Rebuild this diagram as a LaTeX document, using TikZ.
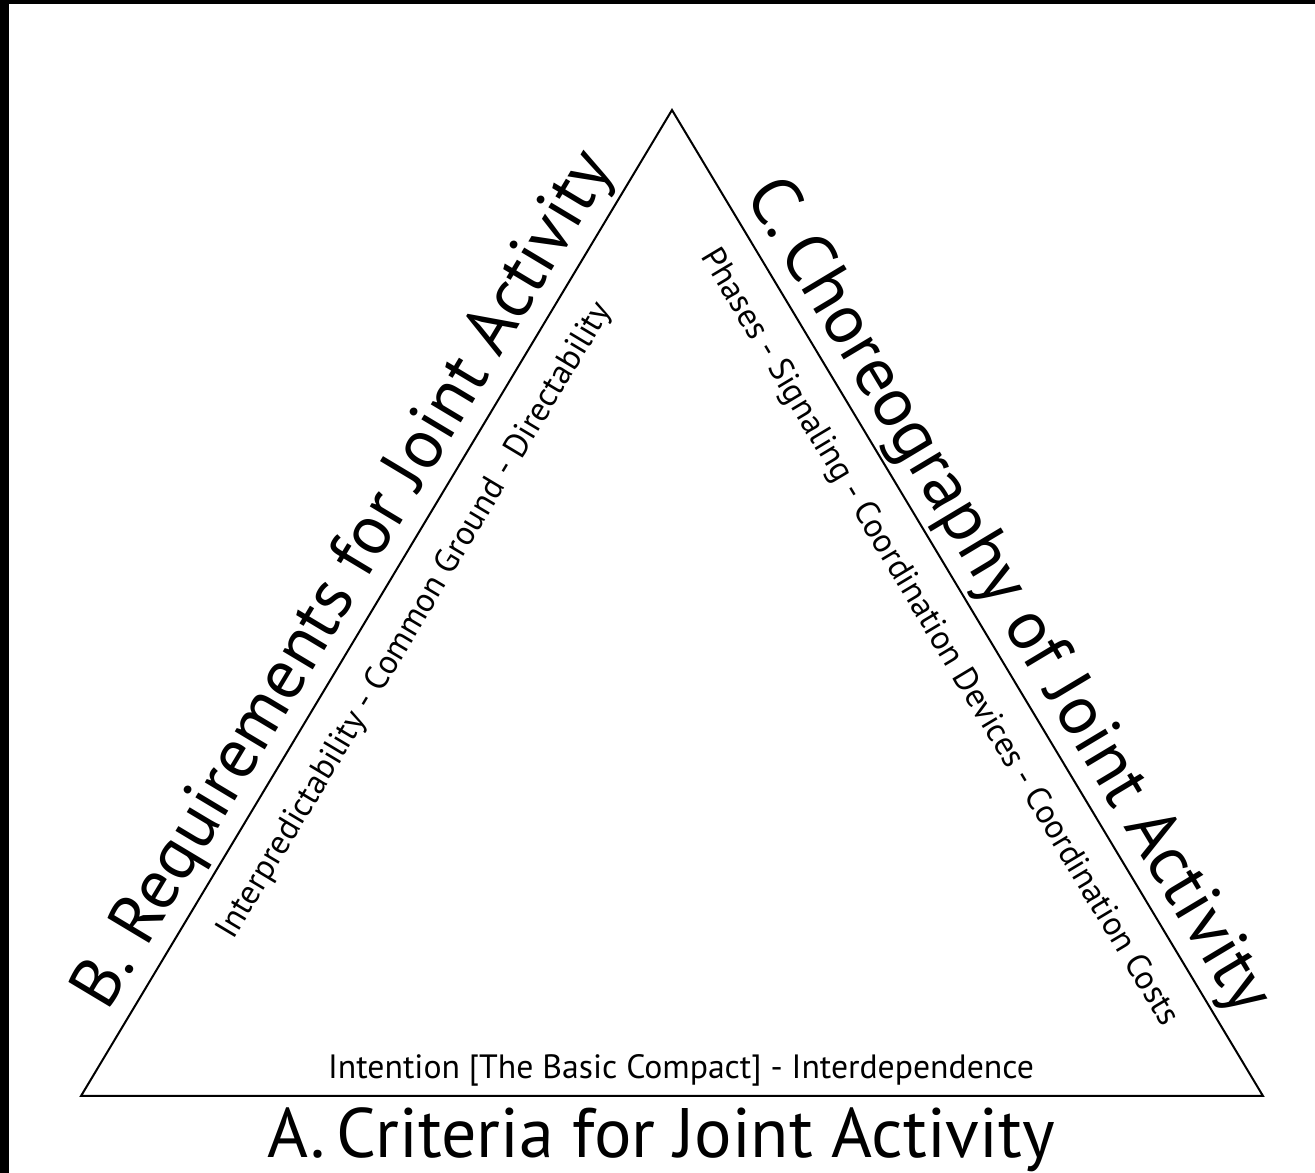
\documentclass[tikz,border=0pt]{standalone}
\usepackage{fontspec}
\setmainfont{PT Sans}
\usepackage{tikz}
\usetikzlibrary{calc}

\begin{document}
\begin{tikzpicture}[x=1pt,y=1pt,
bigside/.style={font=\fontsize{70}{72}\selectfont,inner sep=0pt,anchor=base},
subside/.style={font=\fontsize{33.7}{36}\selectfont,inner sep=0pt,anchor=base}]
% page and frame
\fill[black] (0,0) rectangle (1315,1173);
\fill[white] (9,0) rectangle (1315,1169);

\coordinate (bl) at (81,77);
\coordinate (br) at (1263,77);
\coordinate (apex) at (672,1063);
\draw[line width=2pt,line join=miter] (bl) -- (br) -- (apex) -- cycle;

% bottom side
\node[subside] (Ainner) at (681,94) {Intention [The Basic Compact] - Interdependence};
\node[bigside] (Aside) at (661,15) {A.\,Criteria for Joint Activity};

% left side
\node[bigside,rotate=59.06] (Bside) at ($(bl)!0.503!(apex)!20pt!90:(apex)$) {B. Requirements for Joint Activity};
\node[subside,rotate=59.06] (Binner) at ($(bl)!0.504!(apex)!51pt!-90:(apex)$) {Interpredictability - Common Ground - Directability};

% right side
\node[bigside,rotate=-59.06] (Cside) at ($(apex)!0.513!(br)!19pt!90:(br)$) {C.\,Choreography of Joint Activity};
\node[subside,rotate=-59.06] (Cinner) at ($(apex)!0.513!(br)!51pt!-90:(br)$) {Phases - Signaling - Coordination Devices - Coordination Costs};
\end{tikzpicture}
\end{document}
